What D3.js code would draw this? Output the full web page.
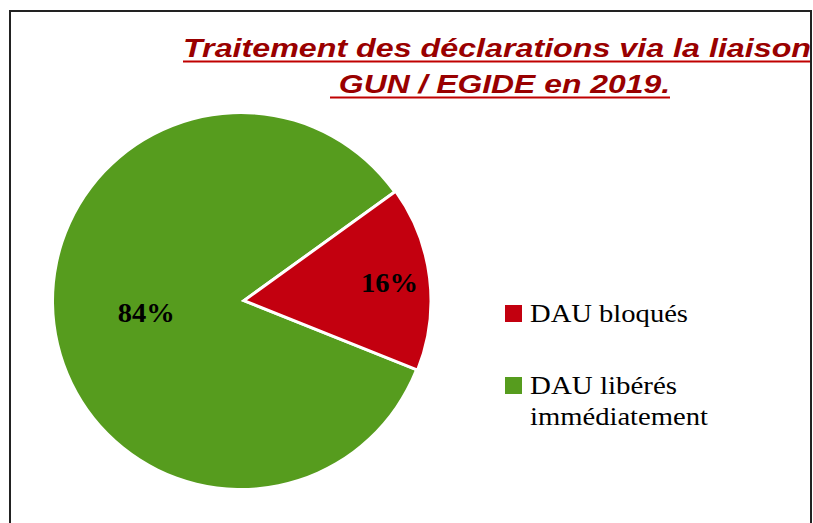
<!doctype html>
<html lang="fr">
<head>
    <meta charset="utf-8">
    <title>Traitement des déclarations GUN / EGIDE 2019</title>
    <script src="https://d3js.org/d3.v7.min.js"></script>
    <style>
        body { margin: 0; background: #fff; }
        svg text.title {
            font-family: "Liberation Sans", Arial, sans-serif;
            font-weight: bold;
            font-style: italic;
            fill: #990000;
        }
        svg text.pct {
            font-family: "Liberation Serif", "Times New Roman", serif;
            font-weight: bold;
            font-size: 27px;
            fill: #000;
            text-anchor: middle;
        }
        svg text.legend {
            font-family: "Liberation Serif", "Times New Roman", serif;
            font-size: 25px;
            fill: #000;
        }
    </style>
</head>
<body>
<div id="chart"></div>
<script>
    // Chart data
    var categories = ["DAU bloqués", "DAU libérés immédiatement"];
    var values     = [16, 84];
    var labels     = ["16%", "84%"];
    var colors     = ["#c3000f", "#569c1e"];
    var titleLines = ["Traitement des déclarations via la liaison", " GUN / EGIDE en 2019."];

    var width  = 813;
    var height = 523;

    var svg = d3.select("#chart")
        .append("svg")
        .attr("width", width)
        .attr("height", height);

    // Frame
    svg.append("rect")
        .attr("x", 10)
        .attr("y", 11)
        .attr("width", 801)
        .attr("height", 530)
        .attr("fill", "#fff")
        .attr("stroke", "#222")
        .attr("stroke-width", 2);

    // Title (two underlined lines)
    var titleSpec = [
        { x: 183, y: 57, len: 628 },
        { x: 330, y: 93, len: 340 }
    ];
    titleLines.forEach(function(t, i) {
        var s = titleSpec[i];
        svg.append("text")
            .attr("class", "title")
            .attr("x", s.x)
            .attr("y", s.y)
            .attr("font-size", 25)
            .attr("textLength", s.len)
            .attr("lengthAdjust", "spacingAndGlyphs")
            .style("white-space", "pre")
            .text(t);
        svg.append("line")
            .attr("x1", s.x)
            .attr("x2", Math.min(s.x + s.len, 810))
            .attr("y1", s.y + 4.5)
            .attr("y2", s.y + 4.5)
            .attr("stroke", "#c00000")
            .attr("stroke-width", 2);
    });

    // Pie
    var cx = 241, cy = 301, radius = 187;
    var startDeg = 54.2;

    var pie = d3.pie()
        .sort(null)
        .startAngle(startDeg * Math.PI / 180)
        .endAngle((startDeg + 360) * Math.PI / 180);

    var arcs = pie(values);
    var arc = d3.arc().innerRadius(0).outerRadius(radius);
    var explode = [3, 0];
    var labelRadius = [0.8 * radius, 0.51 * radius];

    var g = svg.append("g")
        .attr("transform", "translate(" + cx + "," + cy + ")");

    // draw green (big) slice first, red on top
    var order = [1, 0];
    order.forEach(function(i) {
        var a = arcs[i];
        var mid = (a.startAngle + a.endAngle) / 2;
        var dx = Math.sin(mid) * explode[i];
        var dy = -Math.cos(mid) * explode[i];
        g.append("path")
            .attr("d", arc(a))
            .attr("transform", "translate(" + dx + "," + dy + ")")
            .attr("fill", colors[i])
            .attr("stroke", "#fff")
            .attr("stroke-width", i === 0 ? 3 : 0);
    });

    // Percent labels (slightly wide glyphs, as in the source)
    arcs.forEach(function(a, i) {
        var mid = (a.startAngle + a.endAngle) / 2;
        var r = labelRadius[i];
        g.append("text")
            .attr("class", "pct")
            .attr("x", Math.sin(mid) * r)
            .attr("y", -Math.cos(mid) * r)
            .attr("dy", "0.35em")
            .attr("textLength", 57)
            .attr("lengthAdjust", "spacingAndGlyphs")
            .text(labels[i]);
    });

    // Legend
    var legendX = 505;
    var legendY = [305, 377];
    var legendLines = [["DAU bloqués"], ["DAU libérés", "immédiatement"]];
    var legendLens  = [[158], [147, 178]];

    categories.forEach(function(c, i) {
        svg.append("rect")
            .attr("x", legendX)
            .attr("y", legendY[i])
            .attr("width", 17)
            .attr("height", 17)
            .attr("fill", colors[i]);
        legendLines[i].forEach(function(l, j) {
            svg.append("text")
                .attr("class", "legend")
                .attr("x", legendX + 25)
                .attr("y", legendY[i] + 17 + j * 31)
                .attr("textLength", legendLens[i][j])
                .attr("lengthAdjust", "spacingAndGlyphs")
                .text(l);
        });
    });
</script>
</body>
</html>
